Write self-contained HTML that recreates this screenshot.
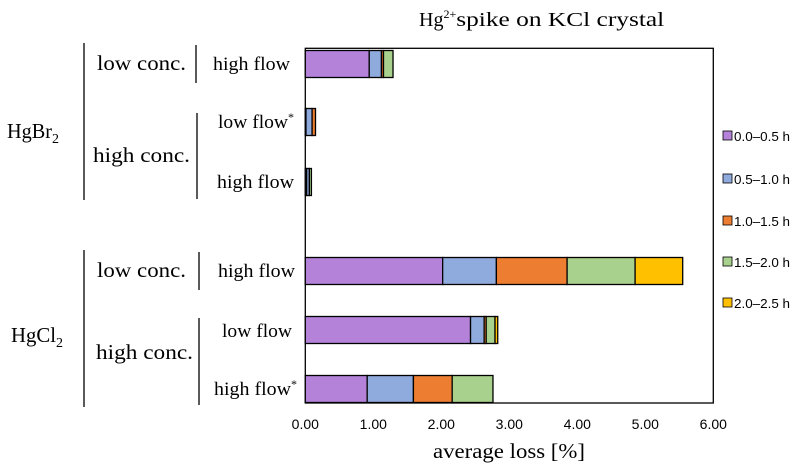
<!DOCTYPE html>
<html><head><meta charset="utf-8"><style>
body{margin:0;background:#fff;}
svg{display:block;}
.serif{font-family:"Liberation Serif",serif;fill:#000;}
.sans{font-family:"Liberation Sans",sans-serif;fill:#000;}
</style></head><body>
<svg id="chart" width="810" height="471" xmlns="http://www.w3.org/2000/svg">
<text class="serif" x="419" y="26" font-size="20">Hg<tspan font-size="12" dy="-8">2+</tspan><tspan dy="8" textLength="208" lengthAdjust="spacingAndGlyphs">spike on KCl crystal</tspan></text>
<rect x="305.3" y="48.3" width="408" height="354.7" fill="none" stroke="#000" stroke-width="1.3"/>
<g id="bars"></g>
<g id="ticks"></g>
<text class="serif" x="433" y="458" font-size="21" textLength="152" lengthAdjust="spacingAndGlyphs">average loss [%]</text>
<g stroke="#000" stroke-width="1.3">
<line x1="84" y1="43" x2="84" y2="200"/><line x1="84" y1="250" x2="84" y2="407"/>
<line x1="196" y1="45" x2="196" y2="83"/><line x1="197" y1="113" x2="197" y2="199"/>
<line x1="199" y1="252" x2="199" y2="290"/><line x1="199" y1="318" x2="199" y2="405"/>
</g>
<g class="serif" font-size="21">
<text x="7" y="138"><tspan textLength="45" lengthAdjust="spacingAndGlyphs">HgBr</tspan><tspan font-size="14" dy="5">2</tspan></text>
<text x="11" y="342"><tspan textLength="45" lengthAdjust="spacingAndGlyphs">HgCl</tspan><tspan font-size="14" dy="5">2</tspan></text>
<text x="97" y="70" textLength="89" lengthAdjust="spacingAndGlyphs">low conc.</text>
<text x="93" y="162" textLength="97" lengthAdjust="spacingAndGlyphs">high conc.</text>
<text x="97" y="277" textLength="89" lengthAdjust="spacingAndGlyphs">low conc.</text>
<text x="96" y="359" textLength="97" lengthAdjust="spacingAndGlyphs">high conc.</text>
</g>
<g class="serif" font-size="19">
<text x="213" y="70" textLength="77" lengthAdjust="spacingAndGlyphs">high flow</text>
<text x="218" y="128"><tspan textLength="70" lengthAdjust="spacingAndGlyphs">low flow</tspan><tspan font-size="12" dy="-7">*</tspan></text>
<text x="217" y="188" textLength="77" lengthAdjust="spacingAndGlyphs">high flow</text>
<text x="218" y="277" textLength="77" lengthAdjust="spacingAndGlyphs">high flow</text>
<text x="222" y="337" textLength="70" lengthAdjust="spacingAndGlyphs">low flow</text>
<text x="214" y="395"><tspan textLength="77" lengthAdjust="spacingAndGlyphs">high flow</tspan><tspan font-size="12" dy="-7">*</tspan></text>
</g>
<g id="legend"></g>
</svg>
<script>
const seriesNames = ["0.0\u20130.5 h","0.5\u20131.0 h","1.0\u20131.5 h","1.5\u20132.0 h","2.0\u20132.5 h"];
const colors = ["#b482d9","#8faadc","#ed7d31","#a9d18e","#ffc000"];
const rowCenters = [64,122,182,271,330,389];
const s1 = [0.94,0.01,0.02,2.02,2.43,0.91];
const s2 = [0.18,0.09,0.04,0.79,0.20,0.68];
const s3 = [0.03,0.05,0.00,1.04,0.03,0.57];
const s4 = [0.14,0.00,0.03,1.00,0.13,0.60];
const s5 = [0.00,0.00,0.00,0.70,0.04,0.00];
const ticks = [0,1,2,3,4,5,6];
const tickLabels = ["0.00","1.00","2.00","3.00","4.00","5.00","6.00"];
const NS="http://www.w3.org/2000/svg";
const x = v => 305.3 + v*68;
const series=[s1,s2,s3,s4,s5];
const bars=document.getElementById('bars');
rowCenters.forEach((cy,i)=>{
  let acc=0;
  series.forEach((s,k)=>{
    const v=s[i]; if(v<=0) return;
    const r=document.createElementNS(NS,'rect');
    r.setAttribute('x',x(acc)); r.setAttribute('y',cy-13.5);
    r.setAttribute('width',x(acc+v)-x(acc)); r.setAttribute('height',27);
    r.setAttribute('fill',colors[k]); r.setAttribute('stroke','#000'); r.setAttribute('stroke-width','1.3');
    
    
    bars.appendChild(r); acc+=v;
  });
});
const tg=document.getElementById('ticks');
ticks.forEach((t,i)=>{
  const tx=document.createElementNS(NS,'text');
  tx.setAttribute('x',x(t)); tx.setAttribute('y',429); tx.setAttribute('text-anchor','middle');
  tx.setAttribute('class','sans'); tx.setAttribute('font-size','14'); tx.setAttribute('fill','#333');
  tx.textContent=tickLabels[i];
  
  
  tg.appendChild(tx);
});
const lg=document.getElementById('legend');
const ly=[136,179,221,262,303];
seriesNames.forEach((n,i)=>{
  const r=document.createElementNS(NS,'rect');
  r.setAttribute('x',723); r.setAttribute('y',ly[i]-5); r.setAttribute('width',9); r.setAttribute('height',9);
  r.setAttribute('fill',colors[i]); r.setAttribute('stroke','#000'); r.setAttribute('stroke-width','0.8');
  
  
  lg.appendChild(r);
  const t=document.createElementNS(NS,'text');
  t.setAttribute('x',734); t.setAttribute('y',ly[i]+5); t.setAttribute('class','sans'); t.setAttribute('font-size','13');
  t.setAttribute('textLength','56'); t.setAttribute('lengthAdjust','spacingAndGlyphs');
  t.textContent=n;
  
  
  lg.appendChild(t);
});
</script>
</body></html>
